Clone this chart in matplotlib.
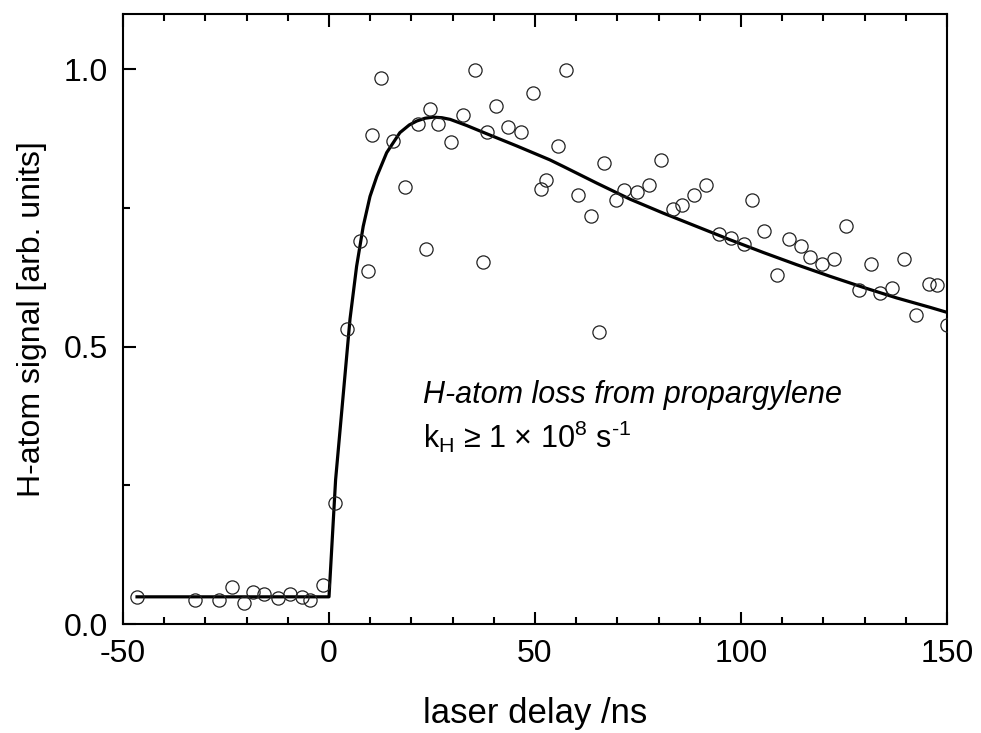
import matplotlib.pyplot as plt
from matplotlib.ticker import MultipleLocator

plt.rcParams["font.family"] = ["Liberation Sans", "DejaVu Sans"]
plt.rcParams["mathtext.fontset"] = "custom"
plt.rcParams["mathtext.rm"] = "Liberation Sans"

# measured H-atom signal
delay = [-46.6, -32.5, -26.7, -23.5, -20.6, -18.5, -15.7, -12.5, -9.5, -6.6,
         -4.6, -1.5, 1.5, 4.4, 7.5, 9.4, 10.5, 12.6, 15.5, 18.4,
         21.7, 23.5, 24.5, 26.5, 29.5, 32.5, 35.5, 37.5, 38.4, 40.5,
         43.5, 46.5, 49.5, 51.5, 52.6, 55.5, 57.6, 60.5, 63.5, 65.6,
         66.7, 69.6, 71.7, 74.7, 77.6, 80.6, 83.6, 85.7, 88.6, 91.6,
         94.7, 97.6, 100.7, 102.7, 105.7, 108.7, 111.7, 114.6, 116.7, 119.7,
         122.6, 125.6, 128.6, 131.6, 133.7, 136.7, 139.6, 142.6, 145.6, 147.7,
         150.0]
signal = [0.049, 0.043, 0.043, 0.066, 0.037, 0.057, 0.054, 0.046, 0.055, 0.048,
          0.043, 0.070, 0.219, 0.532, 0.691, 0.637, 0.881, 0.985, 0.871, 0.788,
          0.902, 0.676, 0.928, 0.902, 0.870, 0.917, 0.999, 0.652, 0.888, 0.935,
          0.896, 0.888, 0.957, 0.784, 0.801, 0.862, 0.999, 0.774, 0.736, 0.527,
          0.831, 0.765, 0.783, 0.779, 0.792, 0.836, 0.749, 0.756, 0.773, 0.792,
          0.703, 0.696, 0.686, 0.765, 0.709, 0.630, 0.694, 0.682, 0.662, 0.649,
          0.659, 0.718, 0.603, 0.650, 0.597, 0.606, 0.659, 0.558, 0.613, 0.611,
          0.540]

# fitted curve
fit_x = [-46.6, 0.0, 1.6, 5.1, 6.7, 8.3, 9.95, 11.6, 14.0, 17.2,
         19.5, 21.3, 23.3, 25.3, 27.4, 29.4, 33.4, 38.3, 45.6, 48.8,
         53.6, 56.9, 65.0, 73.1, 81.1, 89.2, 97.3, 105.4, 113.5, 121.6,
         129.7, 137.8, 145.9, 150.0]
fit_y = [0.049, 0.049, 0.26, 0.55, 0.645, 0.717, 0.771, 0.807, 0.850, 0.886,
         0.900, 0.907, 0.912, 0.914, 0.913, 0.910, 0.899, 0.884, 0.862, 0.852,
         0.837, 0.825, 0.795, 0.766, 0.741, 0.717, 0.693, 0.670, 0.648, 0.627,
         0.607, 0.588, 0.571, 0.562]

fig = plt.figure(figsize=(9.81, 7.33), dpi=100)
ax = fig.add_axes([0.1254, 0.1487, 0.8399, 0.8322])

ax.plot(fit_x, fit_y, color="black", lw=2.3, zorder=2)
ax.plot(delay, signal, "o", ms=9.5, mfc="none", mec="#222222", mew=0.9, zorder=3)

ax.set_xlim(-50, 150)
ax.set_ylim(0, 1.1)
ax.xaxis.set_major_locator(MultipleLocator(50))
ax.xaxis.set_minor_locator(MultipleLocator(10))
ax.yaxis.set_major_locator(MultipleLocator(0.5))
ax.yaxis.set_minor_locator(MultipleLocator(0.25))
ax.yaxis.set_major_formatter(plt.FormatStrFormatter("%.1f"))
ax.xaxis.set_major_formatter(plt.FormatStrFormatter("%d"))

ax.tick_params(axis="x", which="both", direction="in", top=True, labelsize=23, pad=11)
ax.tick_params(axis="y", which="both", direction="in", right=False, labelsize=23, pad=11)
ax.tick_params(which="major", length=9, width=1.5)
ax.tick_params(which="minor", length=5, width=1.5)
for sp in ax.spines.values():
    sp.set_linewidth(1.5)

ax.set_xlabel("laser delay /ns", fontsize=25, labelpad=20)
ax.set_ylabel("H-atom signal [arb. units]", fontsize=23, labelpad=12)

ax.text(22.8, 0.399, "H-atom loss from propargylene", fontsize=22, style="italic")
ax.text(22.8, 0.318, "k$_{\\mathrm{H}}$ ≥ 1 × 10$^{8}$ s$^{\\text{-1}}$", fontsize=22)

fig.savefig("out.png", dpi=100)
